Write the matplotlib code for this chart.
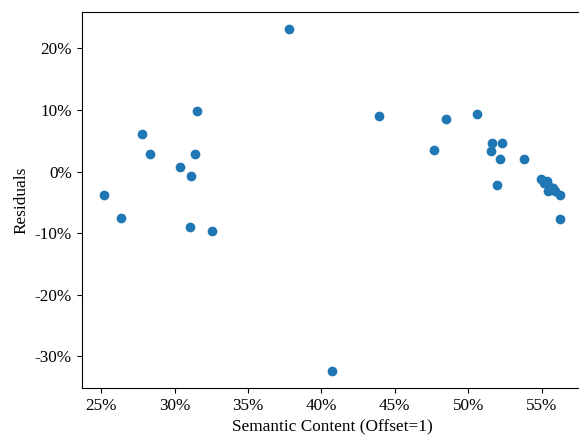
import matplotlib
matplotlib.use("Agg")
import matplotlib.pyplot as plt
from matplotlib.ticker import FuncFormatter, MultipleLocator

plt.rcParams['font.family'] = ['Liberation Serif', 'DejaVu Serif']

# Semantic content (%) and residuals (%)
semantic = [37.79, 31.54, 27.81, 28.35, 31.41, 30.39, 31.14, 25.23, 26.36, 31.07, 32.54,
            40.69,
            43.95, 48.48, 50.61, 47.65, 51.61, 52.31, 51.52, 52.13, 53.78, 51.95,
            54.94, 55.39, 55.17, 55.57, 55.75, 55.46, 55.91, 56.23, 56.27]
residuals = [23.16, 9.80, 6.07, 2.82, 2.82, 0.76, -0.70, -3.83, -7.57, -8.93, -9.58,
             -32.40,
             9.09, 8.60, 9.32, 3.47, 4.61, 4.66, 3.36, 2.01, 2.11, -2.11,
             -1.29, -1.46, -1.89, -2.44, -2.71, -3.13, -3.24, -3.83, -7.63]

fig = plt.figure(figsize=(5.79, 4.36), dpi=100)
ax = fig.add_axes([0.1411, 0.1094, 0.866, 0.8638])
ax.scatter(semantic, residuals, s=36, color='#1f77b4')

ax.xaxis.set_major_locator(MultipleLocator(5))
ax.yaxis.set_major_locator(MultipleLocator(10))
fmt = FuncFormatter(lambda v, p: f"{v:.0f}%")
ax.xaxis.set_major_formatter(fmt)
ax.yaxis.set_major_formatter(fmt)
ax.tick_params(labelsize=12.3)
ax.set_xlabel('Semantic Content (Offset=1)', fontsize=12.4)
ax.set_ylabel('Residuals', fontsize=12.4)

fig.savefig('out.png', dpi=100)
